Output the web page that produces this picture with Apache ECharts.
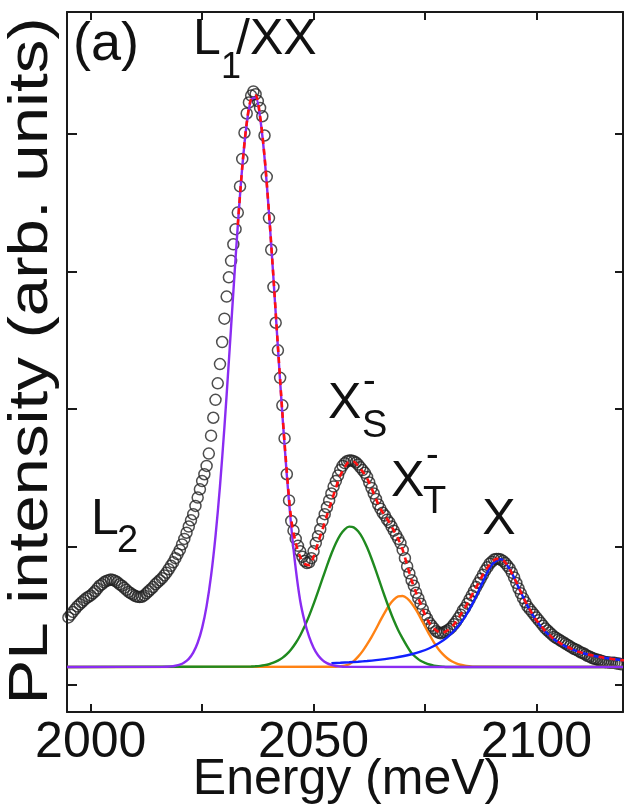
<!DOCTYPE html>
<html>
<head>
<meta charset="UTF-8">
<title>PL spectrum</title>
<script src="https://cdn.jsdelivr.net/npm/echarts@6.0.0/dist/echarts.min.js"></script>
<style>
	html, body { margin: 0; padding: 0; background: #fff; }
	#main { width: 624px; height: 811px; }
</style>
</head>
<body>
<div id="main"></div>
<script>
	// measured PL spectrum (open circles), 0.5 meV grid from 1995 meV
	var dataStart = 1995, dataStep = 0.5;
	var plData = [
		0.36, 0.38, 0.40, 0.42, 0.44, 0.455, 0.47, 0.485, 0.50, 0.51,
		0.52, 0.535, 0.55, 0.57, 0.59, 0.60, 0.615, 0.625, 0.63, 0.635,
		0.632, 0.625, 0.615, 0.60, 0.59, 0.575, 0.56, 0.545, 0.535, 0.525,
		0.515, 0.51, 0.508, 0.51, 0.52, 0.535, 0.55, 0.565, 0.58, 0.60,
		0.615, 0.63, 0.645, 0.665, 0.685, 0.71, 0.735, 0.76, 0.79, 0.82,
		0.85, 0.89, 0.93, 0.975, 1.02, 1.065, 1.11, 1.17, 1.23, 1.29,
		1.35, 1.40, 1.46, 1.55, 1.68, 1.81, 1.94, 2.06, 2.20, 2.36,
		2.53, 2.69, 2.83, 2.95, 3.07, 3.18, 3.30, 3.49, 3.69, 3.88,
		4.02, 4.10, 4.15, 4.18, 4.16, 4.11, 4.06, 4.00, 3.86, 3.56,
		3.26, 3.03, 2.76, 2.50, 2.30, 2.10, 1.90, 1.66, 1.40, 1.21,
		1.06, 0.99, 0.93, 0.88, 0.84, 0.80, 0.77, 0.755, 0.76, 0.79,
		0.84, 0.90, 0.95, 1.00, 1.06, 1.11, 1.16, 1.21, 1.26, 1.31,
		1.35, 1.39, 1.43, 1.46, 1.48, 1.495, 1.50, 1.50, 1.495, 1.485,
		1.47, 1.45, 1.43, 1.41, 1.38, 1.34, 1.30, 1.26, 1.22, 1.18,
		1.15, 1.12, 1.10, 1.07, 1.05, 1.02, 0.99, 0.96, 0.93, 0.90,
		0.85, 0.79, 0.73, 0.68, 0.63, 0.59, 0.54, 0.50, 0.46, 0.42,
		0.38, 0.35, 0.32, 0.30, 0.28, 0.26, 0.25, 0.245, 0.25, 0.255,
		0.265, 0.275, 0.29, 0.31, 0.33, 0.355, 0.38, 0.41, 0.43, 0.46,
		0.49, 0.52, 0.55, 0.58, 0.61, 0.64, 0.67, 0.70, 0.725, 0.75,
		0.765, 0.78, 0.785, 0.785, 0.78, 0.77, 0.755, 0.735, 0.715, 0.685,
		0.65, 0.61, 0.57, 0.535, 0.50, 0.47, 0.44, 0.42, 0.40, 0.38,
		0.36, 0.34, 0.32, 0.30, 0.28, 0.265, 0.25, 0.235, 0.22, 0.21,
		0.20, 0.19, 0.18, 0.17, 0.16, 0.15, 0.14, 0.13, 0.125, 0.115,
		0.105, 0.10, 0.09, 0.08, 0.075, 0.065, 0.06, 0.055, 0.05, 0.045,
		0.04, 0.035, 0.035, 0.03, 0.03, 0.03, 0.025, 0.025, 0.02, 0.02
	];

	// fit components, 1 meV grid unless noted
	var fitStep = 1;
	var l1Start = 2016;
	var l1Fit = [0.001, 0.002, 0.004, 0.009, 0.017, 0.033, 0.059, 0.104, 0.176, 0.284,
		0.442, 0.661, 0.950, 1.312, 1.742, 2.222, 2.722, 3.206, 3.628, 3.944,
		4.120, 4.137, 3.991, 3.700, 3.296, 2.822, 2.321, 1.835, 1.394, 1.018,
		0.714, 0.481, 0.33, 0.22, 0.14, 0.085, 0.05, 0.028, 0.015, 0.007, 0.003, 0.001];
	var xsStart = 2036;
	var xsFit = [0.003, 0.005, 0.008, 0.013, 0.020, 0.031, 0.046, 0.066, 0.093, 0.129,
		0.174, 0.229, 0.295, 0.371, 0.456, 0.547, 0.641, 0.734, 0.822, 0.898,
		0.959, 1.000, 1.019, 1.014, 0.986, 0.937, 0.869, 0.788, 0.698, 0.603,
		0.510, 0.421, 0.339, 0.267, 0.206, 0.150, 0.10, 0.07, 0.045, 0.03,
		0.018, 0.01, 0.005, 0.002, 0];
	var xtStart = 2055;
	var xtFit = [0.002, 0.005, 0.010, 0.020, 0.042, 0.075, 0.115, 0.164, 0.217, 0.276,
		0.338, 0.397, 0.450, 0.489, 0.512, 0.515, 0.498, 0.463, 0.414, 0.356,
		0.294, 0.234, 0.179, 0.131, 0.093, 0.063, 0.041, 0.026, 0.016, 0.009, 0.005, 0.002];
	var xStart = 2054, xStep = 2;
	var xFit = [0.0276, 0.0306, 0.0342, 0.0384, 0.0435, 0.0496, 0.0571, 0.0662,
		0.0778, 0.0924, 0.111, 0.136, 0.170, 0.215, 0.279, 0.366, 0.482, 0.620,
		0.743, 0.783, 0.711, 0.578, 0.444, 0.337, 0.257, 0.200, 0.159, 0.128,
		0.105, 0.0876, 0.074, 0.0633, 0.0547, 0.0477];
	var sumStart = 2033;
	var sumFit = [3.21, 3.63, 3.95, 4.13, 4.15, 4.00, 3.71, 3.30, 2.83, 2.33,
		1.85, 1.42, 1.07, 0.90, 0.80, 0.75, 0.74, 0.80, 0.90, 1.00,
		1.10, 1.20, 1.30, 1.39, 1.45, 1.49, 1.49, 1.46, 1.42, 1.37,
		1.30, 1.22, 1.15, 1.10, 1.05, 0.99, 0.93, 0.85, 0.74, 0.63,
		0.54, 0.46, 0.38, 0.32, 0.28, 0.255, 0.25, 0.265, 0.29, 0.33,
		0.38, 0.43, 0.49, 0.55, 0.61, 0.67, 0.72, 0.76, 0.785, 0.785,
		0.76, 0.71, 0.65, 0.58, 0.51, 0.445, 0.39, 0.34, 0.30, 0.26,
		0.23, 0.20, 0.18, 0.16, 0.145, 0.13, 0.115, 0.105, 0.095, 0.088,
		0.08, 0.074, 0.068, 0.063, 0.058, 0.055, 0.05, 0.048];

	var energyRange = [1994.68, 2119.43];
	var intensityRange = [-0.327, 4.757];
	var energyTicks = [2000, 2025, 2050, 2075, 2100];
	var energyLabels = [2000, 2050, 2100];
	var intensityTicks = [-0.127, 0.873, 1.873, 2.873, 3.873];

	function toPairs(start, step, vals) {
		var out = [];
		for (var i = 0; i < vals.length; i++) out.push([start + i * step, vals[i]]);
		return out;
	}
	function withBaseline(pairs) {
		return [[energyRange[0], 0]].concat(pairs, [[energyRange[1], 0]]);
	}

	var font = '"Liberation Sans", Arial, Helvetica, sans-serif';
	var ink = '#111';
	var frame = { show: true, onZero: false, lineStyle: { color: '#1a1a1a', width: 2 } };

	function lab(text, x, y, size, align) {
		return {
			type: 'text', x: x, y: y, z: 100,
			style: {
				text: text, fill: ink,
				font: size + 'px ' + font,
				align: align || 'left', verticalAlign: 'middle',
				textAlign: align || 'left', textVerticalAlign: 'middle'
			}
		};
	}

	function fitLine(name, pairs, color, z, dashed) {
		return {
			name: name, type: 'line', data: pairs, z: z,
			showSymbol: false, smooth: 0.3, silent: true,
			lineStyle: { color: color, width: dashed ? 2.6 : 2.4, type: dashed ? [6, 5] : 'solid' }
		};
	}

	// axis titles
	var yTitle = lab('PL intensity (arb. units)', 32, 361, 56, 'center');
	yTitle.rotation = Math.PI / 2;
	yTitle.scaleX = 1.2;
	var xTitle = lab('Energy (meV)', 347, 780, 50, 'center');

	var myChart = echarts.init(document.getElementById('main'));
	myChart.setOption({
		animation: false,
		backgroundColor: '#fff',
		grid: { left: 67, right: 1, top: 12, bottom: 99, outerBoundsMode: 'none', containLabel: false },
		xAxis: [
			{
				type: 'value', min: energyRange[0], max: energyRange[1], position: 'bottom',
				axisLine: frame,
				axisTick: { show: true, inside: true, length: 8, customValues: energyTicks,
					lineStyle: { color: '#1a1a1a', width: 2 } },
				axisLabel: { customValues: energyLabels, margin: 6, color: ink,
					fontSize: 50, fontFamily: font,
					formatter: function (v) { return String(v); } },
				splitLine: { show: false }
			},
			{
				type: 'value', min: energyRange[0], max: energyRange[1], position: 'top',
				axisLine: frame,
				axisTick: { show: true, inside: true, length: 8, customValues: energyTicks,
					lineStyle: { color: '#1a1a1a', width: 2 } },
				axisLabel: { show: false },
				splitLine: { show: false }
			}
		],
		yAxis: [
			{
				type: 'value', min: intensityRange[0], max: intensityRange[1], position: 'left',
				axisLine: frame,
				axisTick: { show: true, inside: true, length: 10, customValues: intensityTicks,
					lineStyle: { color: '#1a1a1a', width: 2 } },
				axisLabel: { show: false },
				splitLine: { show: false }
			},
			{
				type: 'value', min: intensityRange[0], max: intensityRange[1], position: 'right',
				axisLine: frame,
				axisTick: { show: true, inside: true, length: 8, customValues: intensityTicks,
					lineStyle: { color: '#1a1a1a', width: 2 } },
				axisLabel: { show: false },
				splitLine: { show: false }
			}
		],
		graphic: [
			yTitle, xTitle,
			lab('(a)', 73, 45, 54),
			lab('L', 193, 40, 50), lab('1', 221, 68, 36), lab('/XX', 236, 40, 50),
			lab('L', 91, 520, 50), lab('2', 117, 542, 38),
			lab('X', 328, 404, 50), lab('S', 362, 427, 38), lab('-', 363, 383, 38),
			lab('X', 391, 482, 50), lab('T', 423, 503, 38), lab('-', 426, 457, 38),
			lab('X', 499, 520, 50, 'center')
		],
		series: [
			{
				name: 'data', type: 'scatter', z: 2, silent: true,
				data: toPairs(dataStart, dataStep, plData),
				symbol: 'circle', symbolSize: 11,
				itemStyle: { color: 'rgba(255,255,255,0)', borderColor: '#222', borderWidth: 1.5 }
			},
			fitLine('XT', withBaseline(toPairs(xtStart, fitStep, xtFit)), '#ff8214', 3),
			fitLine('XS', withBaseline(toPairs(xsStart, fitStep, xsFit)), '#1f8a1f', 4),
			fitLine('X', toPairs(xStart, xStep, xFit), '#1020ff', 5),
			fitLine('L1', withBaseline(toPairs(l1Start, fitStep, l1Fit)), '#8a2cf2', 6),
			fitLine('sum', toPairs(sumStart, fitStep, sumFit), '#ff1010', 7, true)
		]
	});
</script>
</body>
</html>
